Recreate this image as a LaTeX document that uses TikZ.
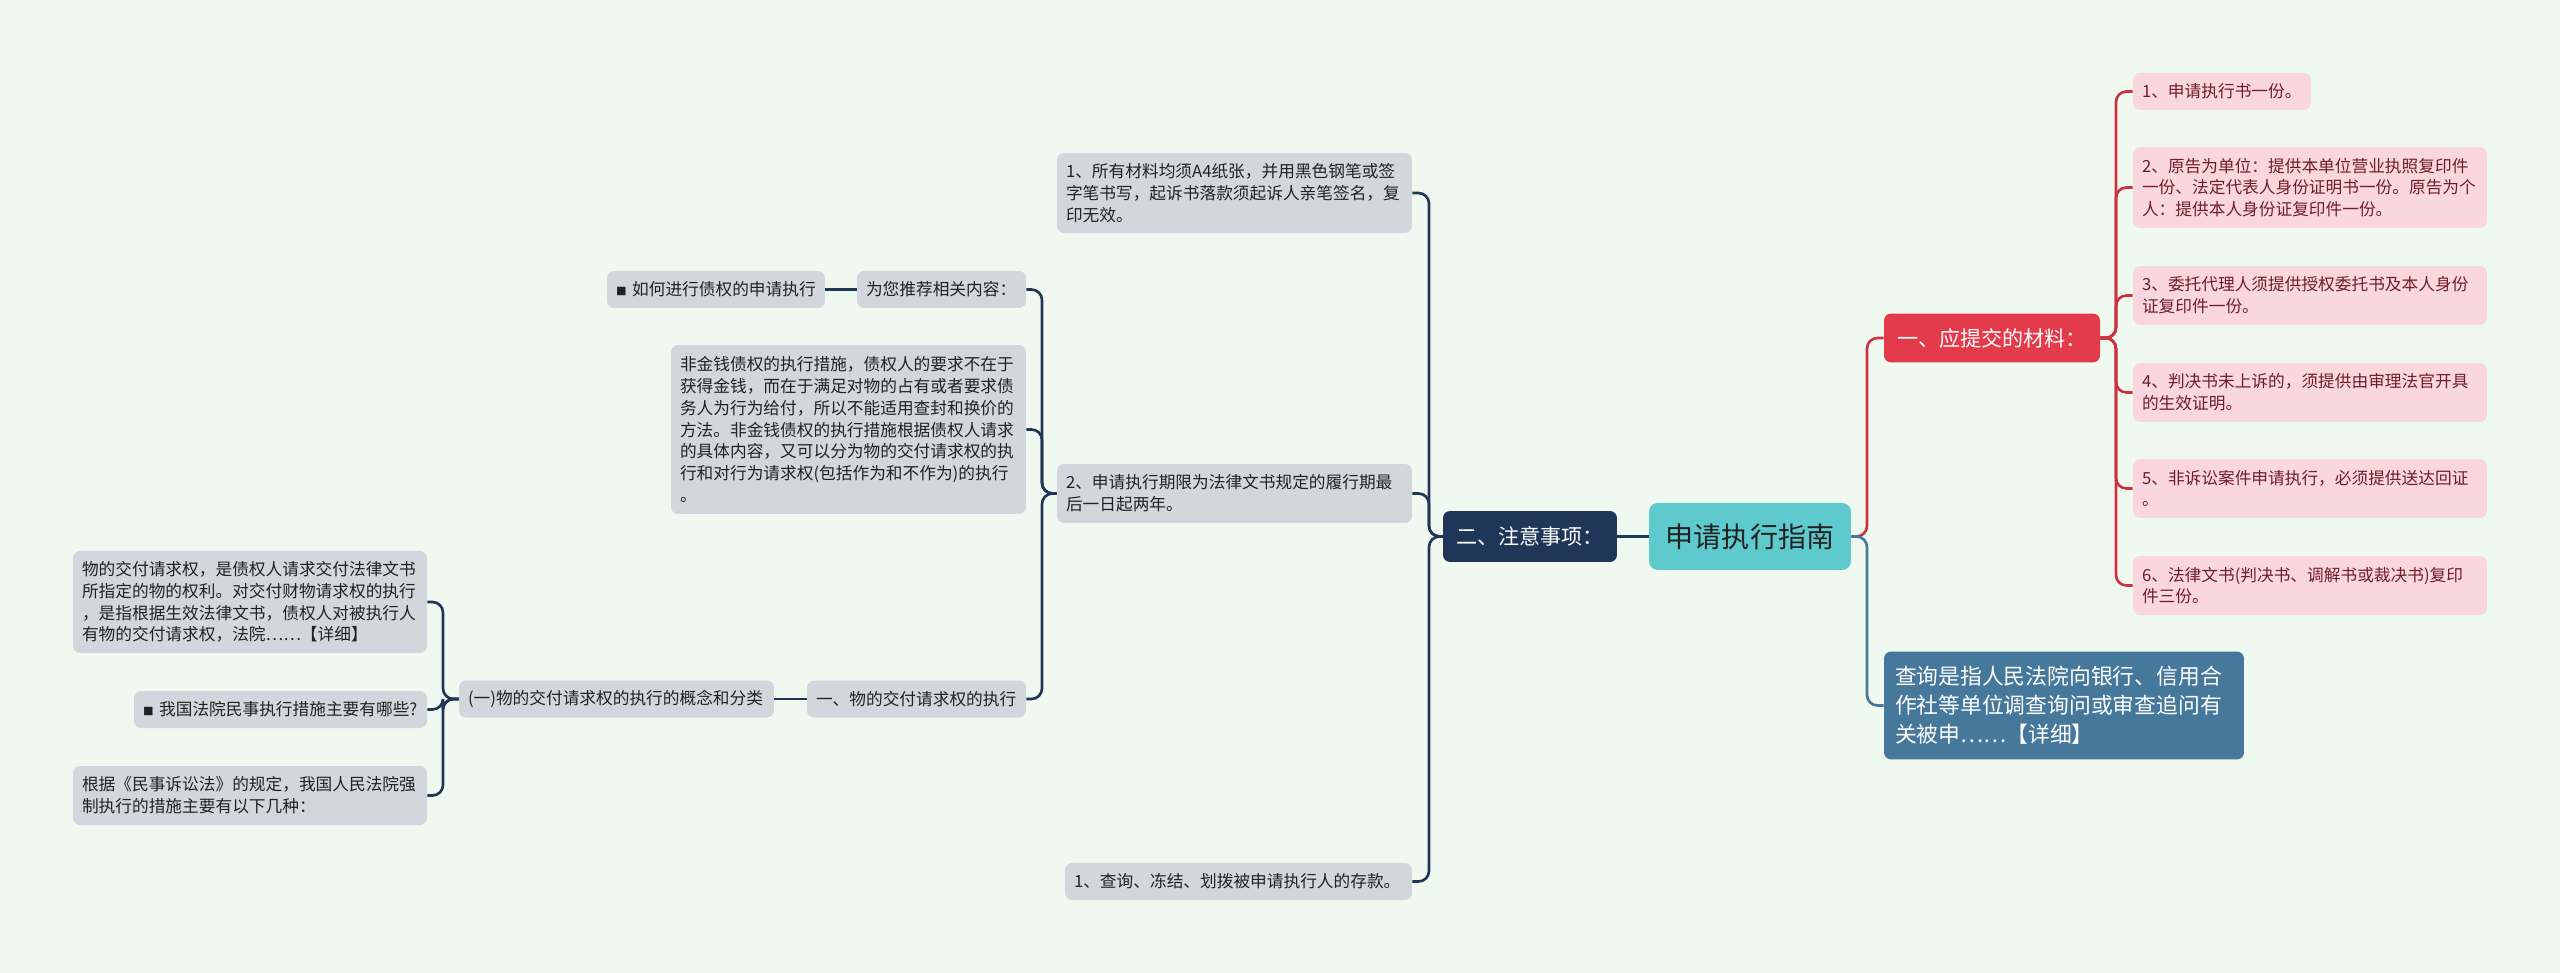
\documentclass[tikz,border=0pt]{standalone}
\usepackage{fontspec}
\setmainfont{Noto Sans CJK SC}
\definecolor{bg}{HTML}{F0F9EF}
\definecolor{navy}{HTML}{1F3658}
\definecolor{rootfill}{HTML}{5ECACE}
\definecolor{redfill}{HTML}{E43B4A}
\definecolor{redline}{HTML}{CC3241}
\definecolor{pinkfill}{HTML}{FAD7DC}
\definecolor{pinktext}{HTML}{6E1E2A}
\definecolor{bluefill}{HTML}{46789B}
\definecolor{grayfill}{HTML}{D2D6DD}
\definecolor{graytext}{HTML}{222222}
\tikzset{every node/.style={font=\fontsize{9.5}{12.4}\selectfont},
  box/.style={rounded corners=4pt,inner xsep=0.18cm,inner ysep=0pt,align=left},
  graybox/.style={box,fill=grayfill,text=graytext},
  pinkbox/.style={box,fill=pinkfill,text=pinktext},
  navylink/.style={draw=navy,line width=1.5pt,rounded corners=6pt},
  redlink/.style={draw=redline,line width=1.5pt,rounded corners=6pt},
  bluelink/.style={draw=bluefill,line width=1.5pt,rounded corners=6pt}}

\begin{document}
\begin{tikzpicture}[x=0.02cm,y=-0.02cm]
\fill[bg] (0,0) rectangle (2560,973);
\useasboundingbox (0,0) rectangle (2560,973);
% centre and first level
\node[box,fill=rootfill,text=graytext,align=center,minimum width=4.04cm,minimum height=1.34cm,rounded corners=5pt,font=\fontsize{16}{19}\selectfont] (root) at (1750,536.5) {申请执行指南};
\node[box,fill=navy,text=white,align=center,minimum width=3.48cm,minimum height=1.02cm,font=\fontsize{12}{14}\selectfont] (zhuyi) at (1530,536.5) {二、注意事项：};
\node[box,fill=redfill,text=white,align=center,minimum width=4.32cm,minimum height=0.98cm,font=\fontsize{12}{14}\selectfont] (cailiao) at (1992,338) {一、应提交的材料：};
\node[box,fill=bluefill,text=white,inner xsep=0.22cm,text width=6.76cm,minimum height=2.16cm,font=\fontsize{12.4}{16.5}\selectfont] (chaxun) at (2064,705.5) {查询是指人民法院向银行、信用合\\作社等单位调查询问或审查追问有\\关被申……【详细】};
% materials
\node[pinkbox,text width=3.2cm,minimum height=0.74cm] (p1) at (2222,91.5) {1、申请执行书一份。};
\node[pinkbox,text width=6.72cm,minimum height=1.62cm] (p2) at (2310,187.5) {2、原告为单位：提供本单位营业执照复印件\\一份、法定代表人身份证明书一份。原告为个\\人：提供本人身份证复印件一份。};
\node[pinkbox,text width=6.72cm,minimum height=1.18cm] (p3) at (2310,295.5) {3、委托代理人须提供授权委托书及本人身份\\证复印件一份。};
\node[pinkbox,text width=6.72cm,minimum height=1.18cm] (p4) at (2310,392.5) {4、判决书未上诉的，须提供由审理法官开具\\的生效证明。};
\node[pinkbox,text width=6.72cm,minimum height=1.18cm] (p5) at (2310,488.5) {5、非诉讼案件申请执行，必须提供送达回证\\。};
\node[pinkbox,text width=6.72cm,minimum height=1.18cm] (p6) at (2310,585.5) {6、法律文书(判决书、调解书或裁决书)复印\\件三份。};
% notes
\node[graybox,text width=6.74cm,minimum height=1.6cm] (g1) at (1234.5,193) {1、所有材料均须A4纸张，并用黑色钢笔或签\\字笔书写，起诉书落款须起诉人亲笔签名，复\\印无效。};
\node[graybox,text width=6.74cm,minimum height=1.18cm] (g2) at (1234.5,493.5) {2、申请执行期限为法律文书规定的履行期最\\后一日起两年。};
\node[graybox,text width=6.58cm,minimum height=0.74cm] (g3) at (1238.5,881.5) {1、查询、冻结、划拨被申请执行人的存款。};
\node[graybox,text width=3.02cm,minimum height=0.74cm] (h1) at (941.5,289.5) {为您推荐相关内容：};
\node[graybox,text width=4.0cm,minimum height=0.74cm] (h0) at (716,289.5) {{\fontsize{6}{6}\selectfont ■} 如何进行债权的申请执行};
\node[graybox,text width=6.74cm,minimum height=3.38cm] (h2) at (848.5,429.5) {非金钱债权的执行措施，债权人的要求不在于\\获得金钱，而在于满足对物的占有或者要求债\\务人为行为给付，所以不能适用查封和换价的\\方法。非金钱债权的执行措施根据债权人请求\\的具体内容，又可以分为物的交付请求权的执\\行和对行为请求权(包括作为和不作为)的执行\\。};
\node[graybox,text width=4.02cm,minimum height=0.74cm] (h3) at (916.5,699) {一、物的交付请求权的执行};
\node[graybox,text width=5.94cm,minimum height=0.74cm] (h4) at (616.5,699) {(一)物的交付请求权的执行的概念和分类};
\node[graybox,text width=6.72cm,minimum height=2.04cm] (k1) at (250,602) {物的交付请求权，是债权人请求交付法律文书\\所指定的物的权利。对交付财物请求权的执行\\，是指根据生效法律文书，债权人对被执行人\\有物的交付请求权，法院……【详细】};
\node[graybox,text width=5.5cm,minimum height=0.74cm] (k2) at (280.5,709.5) {{\fontsize{6}{6}\selectfont ■} 我国法院民事执行措施主要有哪些?};
\node[graybox,text width=6.72cm,minimum height=1.18cm] (k3) at (250,795.5) {根据《民事诉讼法》的规定，我国人民法院强\\制执行的措施主要有以下几种：};
% links
\draw[navylink] (root.west) -- (zhuyi.east);
\draw[redlink] (root.east) -- (1867,536.5) |- (cailiao.west);
\draw[bluelink] (root.east) -- (1867,536.5) |- (chaxun.west);
\foreach \n in {p1,p2,p3,p4,p5,p6} \draw[redlink] (cailiao.east) -- (2116,338) |- (\n.west);
\foreach \n in {g1,g2,g3} \draw[navylink] (zhuyi.west) -- (1429,536.5) |- (\n.east);
\foreach \n in {h1,h2,h3} \draw[navylink] (g2.west) -- (1042,493.5) |- (\n.east);
\draw[navylink] (h1.west) -- (h0.east);
\draw[navylink] (h3.west) -- (h4.east);
\foreach \n in {k1,k2,k3} \draw[navylink] (h4.west) -- (443,699) |- (\n.east);
\end{tikzpicture}
\end{document}
